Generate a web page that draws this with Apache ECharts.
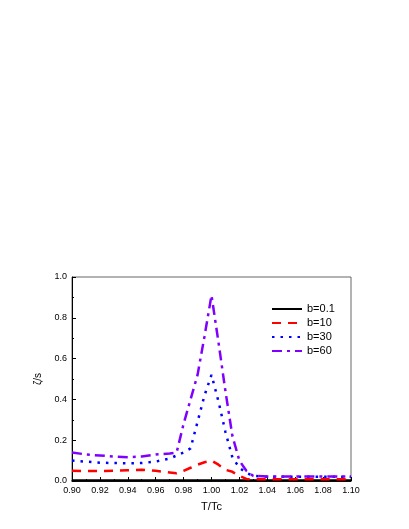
<!DOCTYPE html>
<html>
<head>
<meta charset="utf-8">
<script src="https://cdn.jsdelivr.net/npm/echarts@6/dist/echarts.min.js"></script>
<style>
    html, body { margin: 0; padding: 0; background: #fff; }
    #main { width: 409px; height: 529px; }
</style>
</head>
<body>
<div id="main"></div>
<script>
// T/Tc sample points
var tValues = [0.90, 0.91, 0.92, 0.93, 0.94, 0.95, 0.96, 0.97, 0.975, 0.98, 0.985, 0.99, 0.995,
    1.00, 1.005, 1.01, 1.015, 1.02, 1.025, 1.03, 1.04, 1.05, 1.06, 1.07, 1.08, 1.09, 1.10];

var b01 = [0.003, 0.003, 0.003, 0.003, 0.003, 0.003, 0.003, 0.003, 0.003, 0.003, 0.003, 0.003, 0.003,
    0.003, 0.003, 0.003, 0.003, 0.003, 0.003, 0.003, 0.003, 0.003, 0.003, 0.003, 0.003, 0.003, 0.003];
var b10 = [0.05, 0.049, 0.049, 0.05, 0.053, 0.055, 0.05, 0.042, 0.038, 0.05, 0.065, 0.08, 0.092,
    0.10, 0.08, 0.055, 0.045, 0.025, 0.01, 0.008, 0.008, 0.008, 0.008, 0.008, 0.008, 0.008, 0.008];
var b30 = [0.10, 0.095, 0.09, 0.088, 0.087, 0.088, 0.095, 0.11, 0.125, 0.14, 0.16, 0.29, 0.42,
    0.52, 0.39, 0.24, 0.115, 0.065, 0.04, 0.025, 0.021, 0.021, 0.021, 0.021, 0.021, 0.021, 0.021];
var b60 = [0.14, 0.13, 0.125, 0.12, 0.117, 0.12, 0.13, 0.135, 0.14, 0.28, 0.40, 0.52, 0.71,
    0.91, 0.68, 0.44, 0.22, 0.10, 0.05, 0.025, 0.022, 0.022, 0.022, 0.022, 0.022, 0.022, 0.022];

var xTicks = [0.90, 0.92, 0.94, 0.96, 0.98, 1.00, 1.02, 1.04, 1.06, 1.08, 1.10];
var yTicks = [0.0, 0.2, 0.4, 0.6, 0.8, 1.0];

function pairs(ys) {
    var out = [];
    for (var i = 0; i < tValues.length; i++) {
        out.push([tValues[i], ys[i]]);
    }
    return out;
}

function mkSeries(name, ys, color, width, type) {
    return {
        name: name,
        type: 'line',
        data: pairs(ys),
        symbol: 'none',
        color: color,
        lineStyle: { color: color, width: width, type: type },
        silent: true
    };
}

var dom = document.getElementById('main');
var myChart = echarts.init(dom, null, { renderer: 'canvas' });

var axisText = { color: '#000', fontSize: 9, fontFamily: 'Liberation Sans' };

var option = {
    animation: false,
    textStyle: { fontFamily: 'Liberation Sans' },
    grid: {
        left: 72, right: 58, top: 277, bottom: 48,
        show: true, borderColor: '#666', borderWidth: 1
    },
    legend: {
        orient: 'vertical',
        left: 266,
        top: 298,
        itemWidth: 30,
        itemHeight: 8,
        itemGap: 2,
        itemStyle: { opacity: 0 },
        textStyle: { fontSize: 11, lineHeight: 12, color: '#000', fontFamily: 'Liberation Sans' },
        data: ['b=0.1', 'b=10', 'b=30', 'b=60']
    },
    xAxis: {
        type: 'value',
        min: 0.9,
        max: 1.1,
        interval: 0.02,
        name: 'T/Tc',
        nameLocation: 'middle',
        nameGap: 20,
        nameTextStyle: { fontSize: 11, color: '#000' },
        axisLine: { lineStyle: { color: '#000', width: 1.5 } },
        axisTick: { inside: true, length: 4, lineStyle: { color: '#000' } },
        minorTick: { show: true, splitNumber: 2, length: 2, lineStyle: { color: '#000' } },
        splitLine: { show: false },
        axisLabel: Object.assign({ margin: 5, formatter: function (v) { return v.toFixed(2); } }, axisText)
    },
    yAxis: {
        type: 'value',
        min: 0,
        max: 1,
        interval: 0.2,
        name: 'ζ/s',
        nameLocation: 'middle',
        nameGap: 26,
        nameTextStyle: { fontSize: 10, color: '#000' },
        axisLine: { show: true, lineStyle: { color: '#000', width: 1 } },
        axisTick: { inside: true, length: 4, lineStyle: { color: '#000' } },
        minorTick: { show: true, splitNumber: 2, length: 2, lineStyle: { color: '#000' } },
        splitLine: { show: false },
        axisLabel: Object.assign({ margin: 5, formatter: function (v) { return v.toFixed(1); } }, axisText)
    },
    series: [
        mkSeries('b=0.1', b01, '#000000', 2.5, 'solid'),
        mkSeries('b=10', b10, '#ff0000', 2.5, [9, 7]),
        mkSeries('b=30', b30, '#0000ff', 2.5, [2.5, 6]),
        mkSeries('b=60', b60, '#8000ff', 2.5, [10, 5, 3, 5])
    ]
};

myChart.setOption(option);
window.addEventListener('resize', myChart.resize);
</script>
</body>
</html>
